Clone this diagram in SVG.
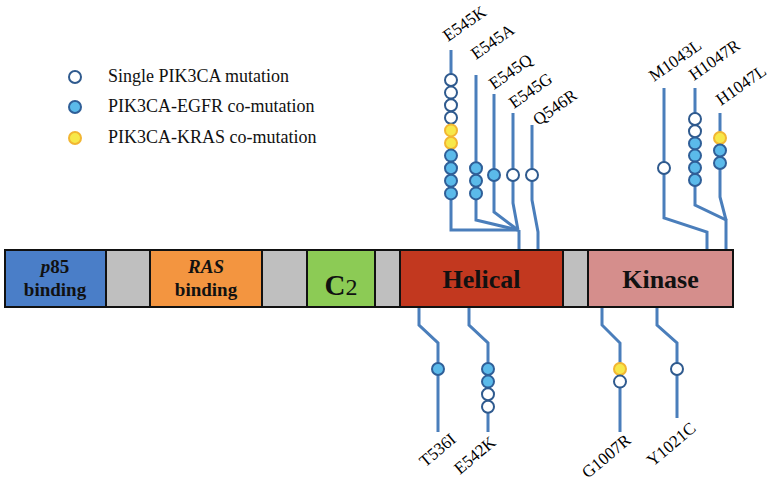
<svg xmlns="http://www.w3.org/2000/svg" width="770" height="485" viewBox="0 0 770 485">
<style>
.ln{fill:none;stroke:#4A7EBB;stroke-width:3;stroke-linejoin:miter}
.w{fill:#FFFFFF;stroke:#2F5A8E;stroke-width:2}
.b{fill:#5BBAEA;stroke:#2F5F98;stroke-width:2}
.y{fill:#F7E84A;stroke:#F2B632;stroke-width:2}
.lab{font-family:"Liberation Serif","Times New Roman",serif;font-size:17px;fill:#000}
.leg{font-family:"Liberation Serif","Times New Roman",serif;font-size:18px;fill:#111}
.dom{stroke:#111;stroke-width:2}
.dt{font-family:"Liberation Serif","Times New Roman",serif;font-weight:bold;fill:#111;text-anchor:middle}
</style>
<rect width="770" height="485" fill="#FFFFFF"/>

<g id="legend">
  <circle class="w" cx="75" cy="77" r="6"/>
  <text class="leg" x="108" y="82">Single PIK3CA mutation</text>
  <circle class="b" cx="75" cy="107" r="6"/>
  <text class="leg" x="108" y="112">PIK3CA-EGFR co-mutation</text>
  <circle class="y" cx="75" cy="138" r="6"/>
  <text class="leg" x="108" y="143">PIK3CA-KRAS co-mutation</text>
</g>

<g id="connectors">
  <path class="ln" d="M451,50 V230 H518 M519,230 V250"/>
  <path class="ln" d="M476,75 V220 L518,230"/>
  <path class="ln" d="M494,94 V212 L518,230"/>
  <path class="ln" d="M513,113 V203 L518,230"/>
  <path class="ln" d="M532,125 V200 L538,232 V250"/>
  <path class="ln" d="M664,88 V218 L707,232 V250"/>
  <path class="ln" d="M695,88 V205 L726,220 V250"/>
  <path class="ln" d="M720,113 V197 L726,220"/>
  <path class="ln" d="M419,307 V325 L438,343 V432"/>
  <path class="ln" d="M469,307 V325 L488,343 V432"/>
  <path class="ln" d="M602,307 V325 L620,343 V432"/>
  <path class="ln" d="M657,307 V325 L677,343 V418"/>
</g>

<g id="domain-p85">
  <rect class="dom" x="5" y="250" width="101" height="57" fill="#4A7EC8"/>
  <text class="dt" x="55" y="273" font-size="19"><tspan font-style="italic">p</tspan>85</text>
  <text class="dt" x="55" y="296" font-size="19">binding</text>
</g>
<g id="linker1"><rect class="dom" x="106" y="250" width="44" height="57" fill="#BFBFBF"/></g>
<g id="domain-ras">
  <rect class="dom" x="150" y="250" width="112" height="57" fill="#F39540"/>
  <text class="dt" x="206" y="273" font-size="19" font-style="italic">RAS</text>
  <text class="dt" x="206" y="296" font-size="19">binding</text>
</g>
<g id="linker2"><rect class="dom" x="262" y="250" width="45" height="57" fill="#BFBFBF"/></g>
<g id="domain-c2">
  <rect class="dom" x="307" y="250" width="68" height="57" fill="#8CCB55"/>
  <text x="341" y="295" font-family="Liberation Serif, serif" text-anchor="middle" fill="#111"><tspan font-size="29" font-weight="bold">C</tspan><tspan font-size="24">2</tspan></text>
</g>
<g id="linker3"><rect class="dom" x="375" y="250" width="25" height="57" fill="#BFBFBF"/></g>
<g id="domain-helical">
  <rect class="dom" x="400" y="250" width="163" height="57" fill="#C2381F"/>
  <text class="dt" x="481.5" y="288" font-size="26">Helical</text>
</g>
<g id="linker4"><rect class="dom" x="563" y="250" width="25" height="57" fill="#BFBFBF"/></g>
<g id="domain-kinase">
  <rect class="dom" x="588" y="250" width="145" height="57" fill="#D58E8C"/>
  <text class="dt" x="660.5" y="288" font-size="26">Kinase</text>
</g>

<g id="E545K">
  <circle class="w" cx="451" cy="80" r="6"/><circle class="w" cx="451" cy="92.6" r="6"/>
  <circle class="w" cx="451" cy="105.2" r="6"/><circle class="w" cx="451" cy="117.8" r="6"/>
  <circle class="y" cx="451" cy="130.4" r="6"/><circle class="y" cx="451" cy="143" r="6"/>
  <circle class="b" cx="451" cy="155.6" r="6"/><circle class="b" cx="451" cy="168.2" r="6"/>
  <circle class="b" cx="451" cy="180.8" r="6"/><circle class="b" cx="451" cy="193.4" r="6"/>
  <text class="lab" transform="translate(448,42) rotate(-35)">E545K</text>
</g>
<g id="E545A">
  <circle class="b" cx="476" cy="168.2" r="6"/><circle class="b" cx="476" cy="180.8" r="6"/><circle class="b" cx="476" cy="193.4" r="6"/>
  <text class="lab" transform="translate(476,60) rotate(-35)">E545A</text>
</g>
<g id="E545Q">
  <circle class="b" cx="494" cy="175" r="6"/>
  <text class="lab" transform="translate(494,90) rotate(-35)">E545Q</text>
</g>
<g id="E545G">
  <circle class="w" cx="513" cy="175" r="6"/>
  <text class="lab" transform="translate(514,109) rotate(-35)">E545G</text>
</g>
<g id="Q546R">
  <circle class="w" cx="532" cy="175" r="6"/>
  <text class="lab" transform="translate(538,126) rotate(-35)">Q546R</text>
</g>
<g id="M1043L">
  <circle class="w" cx="664" cy="168" r="6"/>
  <text class="lab" transform="translate(654,82) rotate(-35)">M1043L</text>
</g>
<g id="H1047R">
  <circle class="w" cx="695" cy="119" r="6"/><circle class="w" cx="695" cy="131.2" r="6"/>
  <circle class="b" cx="695" cy="143.4" r="6"/><circle class="b" cx="695" cy="155.6" r="6"/>
  <circle class="b" cx="695" cy="167.8" r="6"/><circle class="b" cx="695" cy="180" r="6"/>
  <text class="lab" transform="translate(694,81) rotate(-35)">H1047R</text>
</g>
<g id="H1047L">
  <circle class="y" cx="720" cy="138" r="6"/><circle class="b" cx="720" cy="150.5" r="6"/><circle class="b" cx="720" cy="163" r="6"/>
  <text class="lab" transform="translate(721,106) rotate(-35)">H1047L</text>
</g>

<g id="T536I">
  <circle class="b" cx="438" cy="369" r="6"/>
  <text class="lab" text-anchor="end" transform="translate(457,441) rotate(-40)">T536I</text>
</g>
<g id="E542K">
  <circle class="b" cx="488" cy="369" r="6"/><circle class="b" cx="488" cy="381.6" r="6"/>
  <circle class="w" cx="488" cy="394.2" r="6"/><circle class="w" cx="488" cy="406.8" r="6"/>
  <text class="lab" text-anchor="end" transform="translate(497,444) rotate(-40)">E542K</text>
</g>
<g id="G1007R">
  <circle class="y" cx="620" cy="369" r="6"/><circle class="w" cx="620" cy="381.6" r="6"/>
  <text class="lab" text-anchor="end" transform="translate(632,442) rotate(-40)">G1007R</text>
</g>
<g id="Y1021C">
  <circle class="w" cx="677" cy="369" r="6"/>
  <text class="lab" text-anchor="end" transform="translate(697,430) rotate(-40)">Y1021C</text>
</g>
</svg>
